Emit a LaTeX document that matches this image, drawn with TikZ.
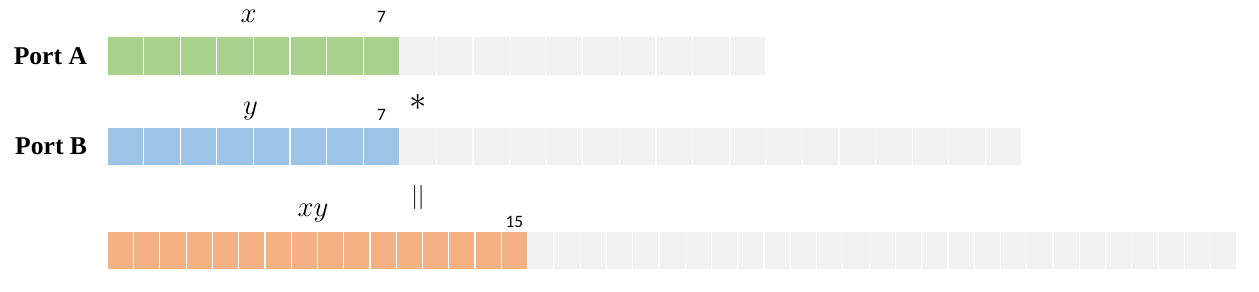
\documentclass[tikz,border=0pt]{standalone}
\usepackage{fontspec}
\setmainfont{Liberation Serif}
\newfontfamily\numfont{Carlito}
\usetikzlibrary{positioning}

\definecolor{cellgreen}{HTML}{A9D18E}
\definecolor{cellblue}{HTML}{9DC3E6}
\definecolor{cellorange}{HTML}{F4B183}
\definecolor{cellgray}{HTML}{F2F2F2}

\begin{document}
\begin{tikzpicture}[
    x=0.5pt, y=-0.5pt,
    cell/.style={rectangle, draw=white, line width=0.6pt, inner sep=0pt, minimum height=19.4pt},
    widecell/.style={cell, minimum width=18.3pt},
    narrowcell/.style={cell, minimum width=13.14pt},
    port/.style={font=\fontsize{12.8}{15}\selectfont\bfseries, inner sep=0pt},
    sym/.style={font=\fontsize{14}{16}\selectfont, inner sep=0pt},
    idx/.style={font=\fontsize{8.7}{10}\selectfont\numfont, inner sep=0pt}
]
    \useasboundingbox (0,0) rectangle (1259,292);

    % Port A
    \foreach \i in {1,...,8} \node[widecell, fill=cellgreen] (a\i) at ({107+36.6*(\i-0.5)},56.2) {};
    \foreach \i in {9,...,18} \node[widecell, fill=cellgray] (a\i) at ({107+36.6*(\i-0.5)},56.2) {};

    % Port B
    \foreach \i in {1,...,8} \node[widecell, fill=cellblue] (b\i) at ({107+36.6*(\i-0.5)},146.6) {};
    \foreach \i in {9,...,25} \node[widecell, fill=cellgray] (b\i) at ({107+36.6*(\i-0.5)},146.6) {};

    % product
    \foreach \i in {1,...,16} \node[narrowcell, fill=cellorange] (c\i) at ({107.3+26.27*(\i-0.5)},250.4) {};
    \foreach \i in {17,...,43} \node[narrowcell, fill=cellgray] (c\i) at ({107.3+26.27*(\i-0.5)},250.4) {};

    \node[port, left=9.5pt of a1] (portA) {Port A};
    \node[port, left=9.5pt of b1] (portB) {Port B};

    \node[sym, above=6.5pt of a4.north east, xshift=-2.7pt] (xlbl) {$x$};
    \node[idx, above=6.5pt of a8] (xtop) {7};
    \node[sym, above=3pt of b4.north east, xshift=-1.7pt] (ylbl) {$y$};
    \node[idx, above=3pt of b8] (ytop) {7};
    \node[sym, font=\fontsize{16}{18}\selectfont, above=8pt of b9] (times) {$*$};
    \node[font=\fontsize{12}{13}\selectfont, inner sep=0pt] (equals) at (418,197.5) {$||$};
    \node[sym, above=4pt of c8.north east, xshift=-2.5pt] (xylbl) {$xy$};
    \node[idx, above=1pt of c16] (xytop) {15};
\end{tikzpicture}
\end{document}
